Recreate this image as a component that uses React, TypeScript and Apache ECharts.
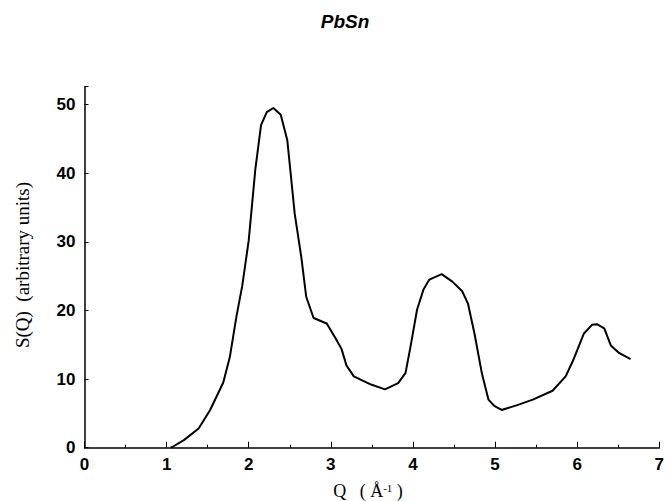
import React, { useEffect, useRef } from "react";
import * as echarts from "echarts";

const titleText = "PbSn";
const yAxisName = "S(Q)  (arbitrary units)";
const qValues = [1.05, 1.07, 1.21, 1.39, 1.53, 1.69, 1.77, 1.85, 1.92, 2.0, 2.08, 2.15, 2.22, 2.3, 2.39, 2.47, 2.56, 2.64, 2.7, 2.79, 2.95, 3.05, 3.13, 3.19, 3.28, 3.49, 3.66, 3.82, 3.91, 3.97, 4.05, 4.13, 4.2, 4.35, 4.48, 4.6, 4.67, 4.75, 4.84, 4.92, 4.99, 5.08, 5.27, 5.46, 5.7, 5.86, 5.95, 6.08, 6.18, 6.24, 6.33, 6.41, 6.51, 6.65];
const sValues = [0, 0.1, 1.1, 2.8, 5.5, 9.5, 13.2, 19.1, 23.5, 30.2, 40.5, 47.0, 48.9, 49.5, 48.5, 44.8, 34.1, 27.8, 22.0, 18.9, 18.1, 16.1, 14.4, 12.0, 10.4, 9.2, 8.5, 9.4, 10.9, 14.7, 20.1, 23.1, 24.5, 25.3, 24.2, 22.8, 21.0, 16.6, 10.8, 7.0, 6.1, 5.5, 6.2, 7.0, 8.3, 10.4, 12.7, 16.6, 17.9, 18.0, 17.4, 14.9, 13.8, 12.9];

export default function App() {
  const ref = useRef<HTMLDivElement>(null);
  useEffect(() => {
    if (!ref.current) return;
    const chart = echarts.init(ref.current, null, { renderer: "svg" });
    const data = qValues.map((q, i) => [q, sValues[i]]);
    chart.setOption({
      animation: false,
      backgroundColor: "#ffffff",
      title: {
        text: titleText,
        left: 340,
        top: 7,
        textAlign: "center",
        textStyle: {
          fontFamily: "Liberation Sans, Arial, sans-serif",
          fontWeight: "bold",
          fontStyle: "italic",
          fontSize: 19,
          color: "#000",
        },
      },
      grid: { left: 84.5, right: 5, top: 86.7, bottom: 53.3 },
      xAxis: {
        type: "value",
        min: 0,
        max: 7,
        interval: 1,
        axisLine: { lineStyle: { color: "#000", width: 1.5 } },
        axisTick: { inside: true, length: 6, lineStyle: { color: "#000", width: 1 } },
        minorTick: { show: true, splitNumber: 2, length: 3, lineStyle: { color: "#000", width: 1 } },
        splitLine: { show: false },
        axisLabel: {
          margin: 8,
          fontFamily: "Liberation Sans, Arial, sans-serif",
          fontWeight: "bold",
          fontSize: 17,
          color: "#000",
        },
      },
      yAxis: {
        type: "value",
        min: 0,
        max: 52.6,
        interval: 10,
        axisLine: { lineStyle: { color: "#000", width: 1.5 } },
        axisTick: { inside: true, length: 4, lineStyle: { color: "#000", width: 1 } },
        splitLine: { show: false },
        axisLabel: {
          margin: 9,
          fontFamily: "Liberation Sans, Arial, sans-serif",
          fontWeight: "bold",
          fontSize: 17,
          color: "#000",
          formatter: (v: number) => (Math.abs(v % 10) < 1e-9 ? String(v) : ""),
        },
      },
      graphic: [
        {
          type: "text",
          x: 22,
          y: 265,
          rotation: Math.PI / 2,
          style: {
            text: yAxisName,
            fontFamily: "Liberation Serif, Times New Roman, serif",
            fontSize: 19,
            fill: "#000",
            align: "center",
            verticalAlign: "middle",
          },
        },
        {
          type: "text",
          x: 368,
          y: 491,
          style: {
            text: "{n|Q   ( Å}{s|-1}{n| )}",
            align: "center",
            verticalAlign: "middle",
            rich: {
              n: { fontFamily: "Liberation Serif, Times New Roman, serif", fontSize: 18, fill: "#000" },
              s: { fontFamily: "Liberation Serif, Times New Roman, serif", fontSize: 11, fill: "#000", verticalAlign: "top" },
            },
          },
        },
      ],
      series: [
        {
          type: "line",
          data,
          showSymbol: false,
          symbol: "none",
          smooth: false,
          lineStyle: { color: "#000", width: 2 },
        },
      ],
    });
    return () => chart.dispose();
  }, []);
  return <div ref={ref} style={{ position: "fixed", left: 0, top: 0, width: 667, height: 501 }} />;
}
